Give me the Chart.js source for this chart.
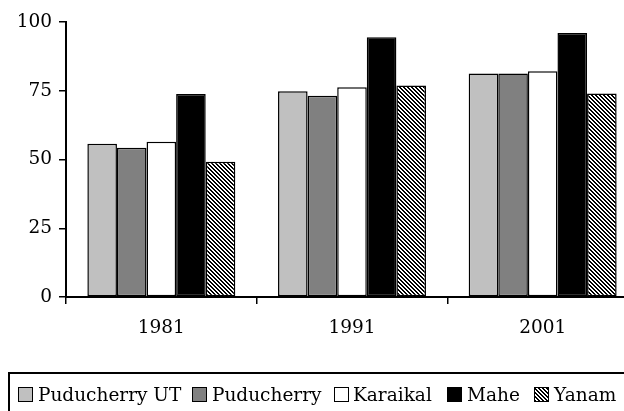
<!DOCTYPE html>
<html>
<head>
<meta charset="utf-8">
<script src="https://cdn.jsdelivr.net/npm/chart.js@4.4.1/dist/chart.umd.min.js"></script>
<style>
  html, body { margin: 0; padding: 0; background: #fff; }
  body { width: 624px; height: 411px; overflow: hidden; position: relative; font-family: "DejaVu Serif", serif; }
  #c { position: absolute; left: 0; top: 0; }
  #legend { position: absolute; left: 8px; top: 372px; width: 720px; height: 100px; border: 2px solid #000; box-sizing: border-box; }
  .sw { position: absolute; width: 15px; height: 15px; box-sizing: border-box; border: 1.5px solid #000; }
  .lt { position: absolute; font-size: 18.5px; line-height: 21px; color: #000; white-space: nowrap; }
</style>
</head>
<body>
<canvas id="c" width="640" height="411"></canvas>
<div id="legend"></div>
<script>
const categories = ["1981", "1991", "2001"];
const seriesNames = ["Puducherry UT", "Puducherry", "Karaikal", "Mahe", "Yanam"];
const puducherryUT = [55.7, 74.8, 81.3];
const puducherry = [54.3, 73.2, 81.3];
const karaikal = [56.5, 76.3, 82.1];
const mahe = [73.8, 94.5, 96.0];
const yanam = [49.2, 76.9, 74.0];
const yTicks = [0, 25, 50, 75, 100];

function hatch() {
  const t = document.createElement('canvas');
  t.width = 4; t.height = 4;
  const g = t.getContext('2d');
  g.fillStyle = '#fff'; g.fillRect(0, 0, 4, 4);
  g.fillStyle = '#000';
  for (let i = 0; i < 4; i++) { g.fillRect(i, i, 1, 1); g.fillRect((i + 1) % 4, i, 1, 1); }
  return document.getElementById('c').getContext('2d').createPattern(t, 'repeat');
}
const pat = hatch();
const fills = ['#C0C0C0', '#808080', '#FFFFFF', '#000000', pat];
const values = [puducherryUT, puducherry, karaikal, mahe, yanam];

const font = { family: '"DejaVu Serif", serif', size: 18.5 };

new Chart(document.getElementById('c'), {
  type: 'bar',
  data: {
    labels: categories,
    datasets: seriesNames.map((n, i) => ({
      label: n,
      data: values[i],
      backgroundColor: fills[i],
      borderColor: '#000',
      borderWidth: 1.5,
      borderSkipped: false,
      categoryPercentage: 0.776,
      barPercentage: 1.0
    }))
  },
  options: {
    responsive: false,
    animation: false,
    layout: { padding: { left: 0, right: 2, top: 22, bottom: 0 } },
    plugins: { legend: { display: false }, tooltip: { enabled: false } },
    scales: {
      x: {
        offset: true,
        grid: { display: true, offset: true, drawOnChartArea: false, drawTicks: true, tickLength: 7, color: '#000', lineWidth: 1.5 },
        border: { display: true, color: '#000', width: 2 },
        ticks: { font: font, color: '#000', padding: 13, maxRotation: 0 },
        afterFit: s => { s.height = 411 - 297; }
      },
      y: {
        min: 0, max: 100,
        afterBuildTicks: s => { s.ticks = yTicks.map(v => ({ value: v })); },
        grid: { display: true, drawOnChartArea: false, drawTicks: true, tickLength: 7, color: '#000', lineWidth: 1.5 },
        border: { display: true, color: '#000', width: 2 },
        ticks: { font: font, color: '#000', padding: 7 },
        afterFit: s => { s.width = 66; }
      }
    }
  }
});

// HTML legend built from series names
const swX = [16, 190, 332, 445, 532];
const txX = [36, 210, 351, 465, 552];
const css = ['#C0C0C0', '#808080', '#FFFFFF', '#000000',
  'repeating-linear-gradient(45deg, #000 0 1.4px, #fff 1.4px 2.8px)'];
const lg = document.getElementById('legend');
seriesNames.forEach((n, i) => {
  const s = document.createElement('div');
  s.className = 'sw';
  s.style.left = (swX[i] - 8) + 'px';
  s.style.top = (385 - 372) + 'px';
  s.style.background = css[i];
  lg.appendChild(s);
  const t = document.createElement('div');
  t.className = 'lt';
  t.style.left = (txX[i] - 8) + 'px';
  t.style.top = (382 - 372) + 'px';
  t.textContent = n;
  lg.appendChild(t);
});
</script>
</body>
</html>
